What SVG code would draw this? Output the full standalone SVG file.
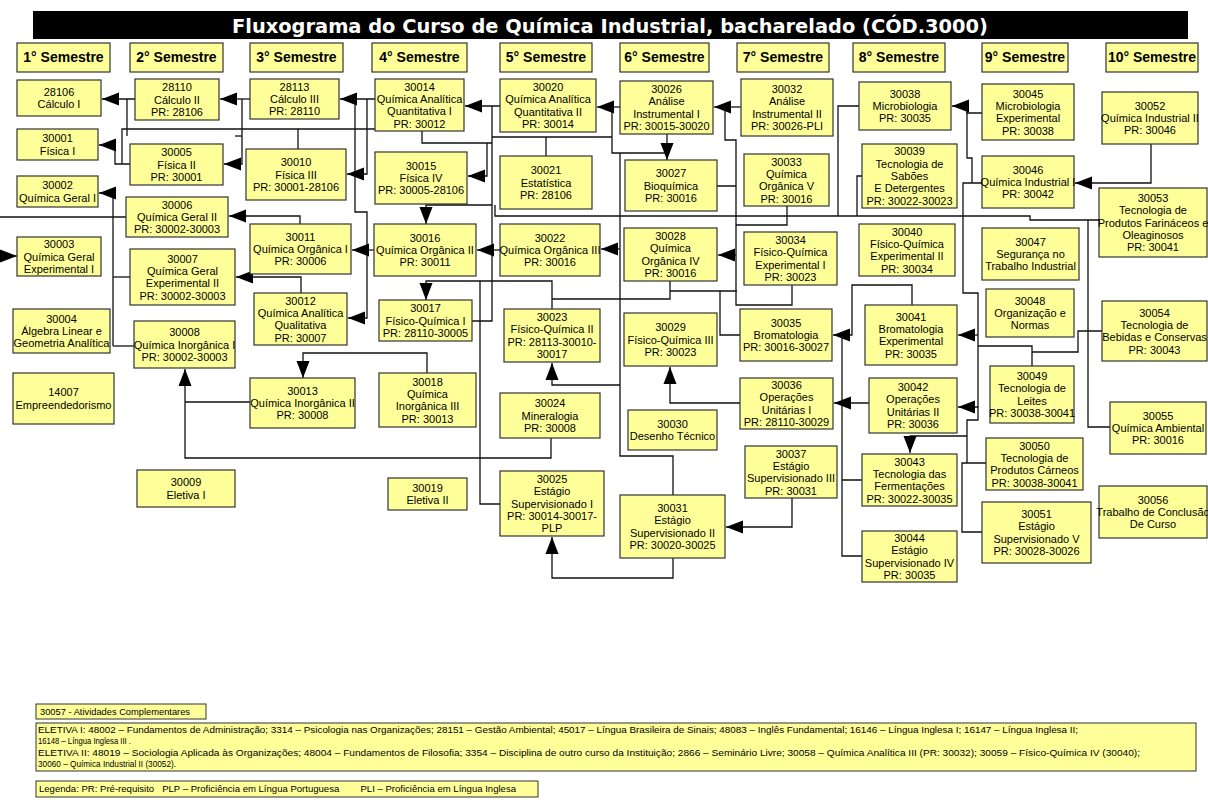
<svg xmlns="http://www.w3.org/2000/svg" width="1208" height="800" viewBox="0 0 1208 800">
<defs>
<marker id="ah" markerUnits="userSpaceOnUse" markerWidth="17" markerHeight="13" refX="17" refY="6.5" orient="auto" overflow="visible">
<path d="M0,0 L17,6.5 L0,13 z" fill="#000"/>
</marker>
</defs>
<style>
.n rect{fill:#ffff99;stroke:#333;stroke-width:1.2}
.n text{font-family:"Liberation Sans",Arial,sans-serif;font-size:11px;text-anchor:middle;fill:#000}
.h rect{fill:#ffff99;stroke:#333;stroke-width:1.2}
.h text{font-family:"Liberation Sans",Arial,sans-serif;font-size:14px;font-weight:bold;text-anchor:middle;fill:#000}
.c path{fill:none;stroke:#111;stroke-width:1.3}
.c path.a{marker-end:url(#ah)}
.lg rect{fill:#ffff99;stroke:#333;stroke-width:1}
.lg text{font-family:"Liberation Sans",Arial,sans-serif;font-size:9.5px;fill:#000}
</style>
<rect width="1208" height="800" fill="#fff"/>
<g id="title">
<rect x="33" y="11" width="1155" height="28" fill="#000"/>
<text x="610" y="33" font-family="DejaVu Sans,sans-serif" font-size="20" font-weight="bold" fill="#fff" text-anchor="middle" textLength="756" lengthAdjust="spacingAndGlyphs">Fluxograma do Curso de Química Industrial, bacharelado (CÓD.3000)</text>
</g>
<g id="headers" class="h">
<g id="s1"><rect x="17" y="43" width="93" height="29"/><text x="63.5" y="62">1° Semestre</text></g>
<g id="s2"><rect x="130" y="43" width="93" height="29"/><text x="176.5" y="62">2° Semestre</text></g>
<g id="s3"><rect x="250" y="43" width="93" height="29"/><text x="296.5" y="62">3° Semestre</text></g>
<g id="s4"><rect x="372" y="43" width="95" height="29"/><text x="419.5" y="62">4° Semestre</text></g>
<g id="s5"><rect x="500" y="43" width="92" height="29"/><text x="546" y="62">5° Semestre</text></g>
<g id="s6"><rect x="620" y="43" width="89" height="29"/><text x="664.5" y="62">6° Semestre</text></g>
<g id="s7"><rect x="737" y="43" width="92" height="29"/><text x="783" y="62">7° Semestre</text></g>
<g id="s8"><rect x="853" y="43" width="92" height="29"/><text x="899" y="62">8° Semestre</text></g>
<g id="s9"><rect x="982" y="43" width="86" height="29"/><text x="1025" y="62">9° Semestre</text></g>
<g id="s10"><rect x="1106" y="43" width="92" height="29"/><text x="1152" y="62">10° Semestre</text></g>
</g>
<g id="connectors" class="c">
<path class="a" d="M135,99 H102"/>
<path d="M127,99 V136"/>
<path class="a" d="M130,164 H115 V145 H99"/>
<path d="M298,149 V129 H122 V164"/>
<path d="M298,129 H375"/>
<path class="a" d="M250,99 H220"/>
<path class="a" d="M242,99 V164 H224"/>
<path d="M235,136 H242"/>
<path class="a" d="M113,346 V193 H99"/>
<path d="M126,217 H0"/>
<path class="a" d="M0,256 H17"/>
<path d="M130,277 H113"/>
<path d="M134,346 H113"/>
<path class="a" d="M300,224 V216 H229"/>
<path class="a" d="M301,293 V277 H236"/>
<path class="a" d="M375,99 H340"/>
<path class="a" d="M355,99 V212 H367 V318 H348"/>
<path class="a" d="M367,99 V174 H347"/>
<path class="a" d="M374,250 H352"/>
<path class="a" d="M500,106 H465"/>
<path d="M492,106 V321 H472"/>
<path d="M422,131 V143 H492"/>
<path class="a" d="M487,143 V176 H468"/>
<path class="a" d="M492,205 H426 V224"/>
<path d="M495,205 V216 H1030 V220 H1099"/>
<path d="M859,106 H838 V216"/>
<path d="M862,176 H857 V216"/>
<path d="M1088,220 V427 H1110"/>
<path class="a" d="M500,250 H477"/>
<path class="a" d="M552,309 V281 H426 V300"/>
<path d="M500,504 H480 V281"/>
<path d="M552,299 H670 V281 M670,291 H737"/>
<path class="a" d="M620,385 H552 V363"/>
<path class="a" d="M620,107 H597"/>
<path d="M612,107 V153 H667"/>
<path d="M620,153 V456 H673 V495"/>
<path d="M492,137 H612 M546,137 V156"/>
<path class="a" d="M667,134 V160"/>
<path class="a" d="M620,249 H601"/>
<path class="a" d="M740,403 H670 V367"/>
<path class="a" d="M741,107 H714"/>
<path d="M725,107 V140 H736 V305 H792 V285 M717,186 H736"/>
<path class="a" d="M736,255 H718"/>
<path d="M787,206 V225 H736"/>
<path d="M740,335 H720 V291"/>
<path class="a" d="M912,305 V285 H852 V335 H833"/>
<path d="M842,335 V556 H862 M842,480 H862"/>
<path class="a" d="M869,403 H834"/>
<path class="a" d="M982,113 H967 V106 H952"/>
<path d="M967,106 V158 H972 V183"/>
<path class="a" d="M982,183 H963 V293 H978 V407 H958"/>
<path class="a" d="M978,335 H958"/>
<path class="a" d="M1151,144 V183 H1075"/>
<path d="M1032,366 V346 H978 M1102,331 H1078 V352 H1032"/>
<path d="M978,407 V420 H967 V463 H986 M982,532 H962 V463 H967"/>
<path class="a" d="M967,436 H910 V453"/>
<path class="a" d="M792,498 V527 H726"/>
<path class="a" d="M673,558 V578 H552 V537"/>
<path class="a" d="M551,438 V458 H185 V369"/>
<path d="M251,402 H185"/>
<path class="a" d="M427,373 V353 H303 V378"/>
</g>
<g id="nodes">
<g id="n28106" class="n"><rect x="17" y="80" width="84" height="36"/><text x="59" y="95.9">28106<tspan x="59" dy="12.3">Cálculo I</tspan></text></g>
<g id="n30001" class="n"><rect x="17" y="129" width="81" height="31"/><text x="57.5" y="142.4">30001<tspan x="57.5" dy="12.3">Física I</tspan></text></g>
<g id="n30002" class="n"><rect x="17" y="176" width="81" height="31"/><text x="57.5" y="189.4">30002<tspan x="57.5" dy="12.3">Química Geral I</tspan></text></g>
<g id="n30003" class="n"><rect x="17" y="237" width="84" height="39"/><text x="59" y="248.2">30003<tspan x="59" dy="12.3">Química Geral</tspan><tspan x="59" dy="12.3">Experimental I</tspan></text></g>
<g id="n30004" class="n"><rect x="13" y="309" width="97" height="44"/><text x="61.5" y="322.7">30004<tspan x="61.5" dy="12.3">Álgebra Linear e</tspan><tspan x="61.5" dy="12.3">Geometria Analítica</tspan></text></g>
<g id="n14007" class="n"><rect x="13" y="373" width="101" height="51"/><text x="63.5" y="396.4">14007<tspan x="63.5" dy="12.3">Empreendedorismo</tspan></text></g>
<g id="n28110" class="n"><rect x="135" y="79" width="84" height="41"/><text x="177" y="91.2">28110<tspan x="177" dy="12.3">Cálculo II</tspan><tspan x="177" dy="12.3">PR: 28106</tspan></text></g>
<g id="n30005" class="n"><rect x="130" y="144" width="93" height="41"/><text x="176.5" y="156.2">30005<tspan x="176.5" dy="12.3">Física II</tspan><tspan x="176.5" dy="12.3">PR: 30001</tspan></text></g>
<g id="n30006" class="n"><rect x="126" y="197" width="102" height="40"/><text x="177" y="208.7">30006<tspan x="177" dy="12.3">Química Geral II</tspan><tspan x="177" dy="12.3">PR: 30002-30003</tspan></text></g>
<g id="n30007" class="n"><rect x="130" y="249" width="105" height="56"/><text x="182.5" y="262.6">30007<tspan x="182.5" dy="12.3">Química Geral</tspan><tspan x="182.5" dy="12.3">Experimental II</tspan><tspan x="182.5" dy="12.3">PR: 30002-30003</tspan></text></g>
<g id="n30008" class="n"><rect x="134" y="321" width="101" height="47"/><text x="184.5" y="336.2">30008<tspan x="184.5" dy="12.3">Química Inorgânica I</tspan><tspan x="184.5" dy="12.3">PR: 30002-30003</tspan></text></g>
<g id="n30009" class="n"><rect x="137" y="470" width="98" height="37"/><text x="186" y="486.4">30009<tspan x="186" dy="12.3">Eletiva I</tspan></text></g>
<g id="n28113" class="n"><rect x="250" y="79" width="89" height="40"/><text x="294.5" y="90.7">28113<tspan x="294.5" dy="12.3">Cálculo III</tspan><tspan x="294.5" dy="12.3">PR: 28110</tspan></text></g>
<g id="n30010" class="n"><rect x="246" y="149" width="100" height="51"/><text x="296" y="166.2">30010<tspan x="296" dy="12.3">Física III</tspan><tspan x="296" dy="12.3">PR: 30001-28106</tspan></text></g>
<g id="n30011" class="n"><rect x="250" y="224" width="101" height="50"/><text x="300.5" y="240.7">30011<tspan x="300.5" dy="12.3">Química Orgânica I</tspan><tspan x="300.5" dy="12.3">PR: 30006</tspan></text></g>
<g id="n30012" class="n"><rect x="254" y="293" width="93" height="52"/><text x="300.5" y="304.6">30012<tspan x="300.5" dy="12.3">Química Analítica</tspan><tspan x="300.5" dy="12.3">Qualitativa</tspan><tspan x="300.5" dy="12.3">PR: 30007</tspan></text></g>
<g id="n30013" class="n"><rect x="250" y="378" width="105" height="50"/><text x="302.5" y="394.7">30013<tspan x="302.5" dy="12.3">Química Inorgânica II</tspan><tspan x="302.5" dy="12.3">PR: 30008</tspan></text></g>
<g id="n30014" class="n"><rect x="375" y="79" width="89" height="52"/><text x="419.5" y="90.6">30014<tspan x="419.5" dy="12.3">Química Analítica</tspan><tspan x="419.5" dy="12.3">Quantitativa I</tspan><tspan x="419.5" dy="12.3">PR: 30012</tspan></text></g>
<g id="n30015" class="n"><rect x="375" y="152" width="92" height="52"/><text x="421" y="169.7">30015<tspan x="421" dy="12.3">Física IV</tspan><tspan x="421" dy="12.3">PR: 30005-28106</tspan></text></g>
<g id="n30016" class="n"><rect x="374" y="224" width="102" height="52"/><text x="425" y="241.7">30016<tspan x="425" dy="12.3">Química Orgânica II</tspan><tspan x="425" dy="12.3">PR: 30011</tspan></text></g>
<g id="n30017" class="n"><rect x="379" y="300" width="93" height="41"/><text x="425.5" y="312.2">30017<tspan x="425.5" dy="12.3">Físico-Química I</tspan><tspan x="425.5" dy="12.3">PR: 28110-30005</tspan></text></g>
<g id="n30018" class="n"><rect x="379" y="373" width="97" height="54"/><text x="427.5" y="385.6">30018<tspan x="427.5" dy="12.3">Química</tspan><tspan x="427.5" dy="12.3">Inorgânica III</tspan><tspan x="427.5" dy="12.3">PR: 30013</tspan></text></g>
<g id="n30019" class="n"><rect x="388" y="478" width="79" height="32"/><text x="427.5" y="491.9">30019<tspan x="427.5" dy="12.3">Eletiva II</tspan></text></g>
<g id="n30020" class="n"><rect x="500" y="79" width="96" height="53"/><text x="548" y="91.1">30020<tspan x="548" dy="12.3">Química Analítica</tspan><tspan x="548" dy="12.3">Quantitativa II</tspan><tspan x="548" dy="12.3">PR: 30014</tspan></text></g>
<g id="n30021" class="n"><rect x="500" y="156" width="92" height="53"/><text x="546" y="174.2">30021<tspan x="546" dy="12.3">Estatística</tspan><tspan x="546" dy="12.3">PR: 28106</tspan></text></g>
<g id="n30022" class="n"><rect x="500" y="224" width="100" height="52"/><text x="550" y="241.7">30022<tspan x="550" dy="12.3">Química Orgânica III</tspan><tspan x="550" dy="12.3">PR: 30016</tspan></text></g>
<g id="n30023" class="n"><rect x="504" y="309" width="96" height="53"/><text x="552" y="321.1">30023<tspan x="552" dy="12.3">Físico-Química II</tspan><tspan x="552" dy="12.3">PR: 28113-30010-</tspan><tspan x="552" dy="12.3">30017</tspan></text></g>
<g id="n30024" class="n"><rect x="500" y="393" width="100" height="45"/><text x="550" y="407.2">30024<tspan x="550" dy="12.3">Mineralogia</tspan><tspan x="550" dy="12.3">PR: 30008</tspan></text></g>
<g id="n30025" class="n"><rect x="500" y="471" width="104" height="65"/><text x="552" y="482.9">30025<tspan x="552" dy="12.3">Estágio</tspan><tspan x="552" dy="12.3">Supervisionado I</tspan><tspan x="552" dy="12.3">PR: 30014-30017-</tspan><tspan x="552" dy="12.3">PLP</tspan></text></g>
<g id="n30026" class="n"><rect x="620" y="81" width="93" height="53"/><text x="666.5" y="93.1">30026<tspan x="666.5" dy="12.3">Análise</tspan><tspan x="666.5" dy="12.3">Instrumental I</tspan><tspan x="666.5" dy="12.3">PR: 30015-30020</tspan></text></g>
<g id="n30027" class="n"><rect x="625" y="160" width="92" height="51"/><text x="671" y="177.2">30027<tspan x="671" dy="12.3">Bioquímica</tspan><tspan x="671" dy="12.3">PR: 30016</tspan></text></g>
<g id="n30028" class="n"><rect x="624" y="228" width="93" height="53"/><text x="670.5" y="240.1">30028<tspan x="670.5" dy="12.3">Química</tspan><tspan x="670.5" dy="12.3">Orgânica IV</tspan><tspan x="670.5" dy="12.3">PR: 30016</tspan></text></g>
<g id="n30029" class="n"><rect x="624" y="313" width="93" height="53"/><text x="670.5" y="331.2">30029<tspan x="670.5" dy="12.3">Físico-Química III</tspan><tspan x="670.5" dy="12.3">PR: 30023</tspan></text></g>
<g id="n30030" class="n"><rect x="628" y="410" width="89" height="40"/><text x="672.5" y="427.9">30030<tspan x="672.5" dy="12.3">Desenho Técnico</tspan></text></g>
<g id="n30031" class="n"><rect x="620" y="495" width="105" height="63"/><text x="672.5" y="512.1">30031<tspan x="672.5" dy="12.3">Estágio</tspan><tspan x="672.5" dy="12.3">Supervisionado II</tspan><tspan x="672.5" dy="12.3">PR: 30020-30025</tspan></text></g>
<g id="n30032" class="n"><rect x="741" y="79" width="92" height="57"/><text x="787" y="93.1">30032<tspan x="787" dy="12.3">Análise</tspan><tspan x="787" dy="12.3">Instrumental II</tspan><tspan x="787" dy="12.3">PR: 30026-PLI</tspan></text></g>
<g id="n30033" class="n"><rect x="744" y="154" width="85" height="52"/><text x="786.5" y="165.6">30033<tspan x="786.5" dy="12.3">Química</tspan><tspan x="786.5" dy="12.3">Orgânica V</tspan><tspan x="786.5" dy="12.3">PR: 30016</tspan></text></g>
<g id="n30034" class="n"><rect x="744" y="232" width="93" height="53"/><text x="790.5" y="244.1">30034<tspan x="790.5" dy="12.3">Físico-Química</tspan><tspan x="790.5" dy="12.3">Experimental I</tspan><tspan x="790.5" dy="12.3">PR: 30023</tspan></text></g>
<g id="n30035" class="n"><rect x="740" y="309" width="92" height="52"/><text x="786" y="326.7">30035<tspan x="786" dy="12.3">Bromatologia</tspan><tspan x="786" dy="12.3">PR: 30016-30027</tspan></text></g>
<g id="n30036" class="n"><rect x="740" y="378" width="93" height="51"/><text x="786.5" y="389.1">30036<tspan x="786.5" dy="12.3">Operações</tspan><tspan x="786.5" dy="12.3">Unitárias I</tspan><tspan x="786.5" dy="12.3">PR: 28110-30029</tspan></text></g>
<g id="n30037" class="n"><rect x="745" y="446" width="92" height="52"/><text x="791" y="457.6">30037<tspan x="791" dy="12.3">Estágio</tspan><tspan x="791" dy="12.3">Supervisionado III</tspan><tspan x="791" dy="12.3">PR: 30031</tspan></text></g>
<g id="n30038" class="n"><rect x="859" y="82" width="92" height="48"/><text x="905" y="97.7">30038<tspan x="905" dy="12.3">Microbiologia</tspan><tspan x="905" dy="12.3">PR: 30035</tspan></text></g>
<g id="n30039" class="n"><rect x="862" y="144" width="95" height="64"/><text x="909.5" y="155.4">30039<tspan x="909.5" dy="12.3">Tecnologia de</tspan><tspan x="909.5" dy="12.3">Sabões</tspan><tspan x="909.5" dy="12.3">E Detergentes</tspan><tspan x="909.5" dy="12.3">PR: 30022-30023</tspan></text></g>
<g id="n30040" class="n"><rect x="859" y="224" width="96" height="52"/><text x="907" y="235.6">30040<tspan x="907" dy="12.3">Físico-Química</tspan><tspan x="907" dy="12.3">Experimental II</tspan><tspan x="907" dy="12.3">PR: 30034</tspan></text></g>
<g id="n30041" class="n"><rect x="865" y="305" width="92" height="60"/><text x="911" y="320.6">30041<tspan x="911" dy="12.3">Bromatologia</tspan><tspan x="911" dy="12.3">Experimental</tspan><tspan x="911" dy="12.3">PR: 30035</tspan></text></g>
<g id="n30042" class="n"><rect x="869" y="378" width="88" height="55"/><text x="913" y="391.1">30042<tspan x="913" dy="12.3">Operações</tspan><tspan x="913" dy="12.3">Unitárias II</tspan><tspan x="913" dy="12.3">PR: 30036</tspan></text></g>
<g id="n30043" class="n"><rect x="862" y="454" width="95" height="52"/><text x="909.5" y="465.6">30043<tspan x="909.5" dy="12.3">Tecnologia das</tspan><tspan x="909.5" dy="12.3">Fermentações</tspan><tspan x="909.5" dy="12.3">PR: 30022-30035</tspan></text></g>
<g id="n30044" class="n"><rect x="862" y="531" width="95" height="51"/><text x="909.5" y="542.1">30044<tspan x="909.5" dy="12.3">Estágio</tspan><tspan x="909.5" dy="12.3">Supervisionado IV</tspan><tspan x="909.5" dy="12.3">PR: 30035</tspan></text></g>
<g id="n30045" class="n"><rect x="982" y="84" width="92" height="56"/><text x="1028" y="97.6">30045<tspan x="1028" dy="12.3">Microbiologia</tspan><tspan x="1028" dy="12.3">Experimental</tspan><tspan x="1028" dy="12.3">PR: 30038</tspan></text></g>
<g id="n30046" class="n"><rect x="982" y="156" width="92" height="52"/><text x="1028" y="173.7">30046<tspan x="1028" dy="12.3">Química Industrial I</tspan><tspan x="1028" dy="12.3">PR: 30042</tspan></text></g>
<g id="n30047" class="n"><rect x="982" y="228" width="97" height="52"/><text x="1030.5" y="245.7">30047<tspan x="1030.5" dy="12.3">Segurança no</tspan><tspan x="1030.5" dy="12.3">Trabalho Industrial</tspan></text></g>
<g id="n30048" class="n"><rect x="986" y="289" width="88" height="48"/><text x="1030" y="304.7">30048<tspan x="1030" dy="12.3">Organização e</tspan><tspan x="1030" dy="12.3">Normas</tspan></text></g>
<g id="n30049" class="n"><rect x="990" y="366" width="84" height="57"/><text x="1032" y="380.1">30049<tspan x="1032" dy="12.3">Tecnologia de</tspan><tspan x="1032" dy="12.3">Leites</tspan><tspan x="1032" dy="12.3">PR: 30038-30041</tspan></text></g>
<g id="n30050" class="n"><rect x="986" y="438" width="97" height="52"/><text x="1034.5" y="449.6">30050<tspan x="1034.5" dy="12.3">Tecnologia de</tspan><tspan x="1034.5" dy="12.3">Produtos Cárneos</tspan><tspan x="1034.5" dy="12.3">PR: 30038-30041</tspan></text></g>
<g id="n30051" class="n"><rect x="982" y="502" width="109" height="61"/><text x="1036.5" y="518.1">30051<tspan x="1036.5" dy="12.3">Estágio</tspan><tspan x="1036.5" dy="12.3">Supervisionado V</tspan><tspan x="1036.5" dy="12.3">PR: 30028-30026</tspan></text></g>
<g id="n30052" class="n"><rect x="1102" y="92" width="96" height="52"/><text x="1150" y="109.7">30052<tspan x="1150" dy="12.3">Química Industrial II</tspan><tspan x="1150" dy="12.3">PR: 30046</tspan></text></g>
<g id="n30053" class="n"><rect x="1099" y="188" width="108" height="69"/><text x="1153" y="201.9">30053<tspan x="1153" dy="12.3">Tecnologia de</tspan><tspan x="1153" dy="12.3">Produtos Farináceos e</tspan><tspan x="1153" dy="12.3">Oleaginosos</tspan><tspan x="1153" dy="12.3">PR: 30041</tspan></text></g>
<g id="n30054" class="n"><rect x="1102" y="301" width="105" height="60"/><text x="1154.5" y="316.6">30054<tspan x="1154.5" dy="12.3">Tecnologia de</tspan><tspan x="1154.5" dy="12.3">Bebidas e Conservas</tspan><tspan x="1154.5" dy="12.3">PR: 30043</tspan></text></g>
<g id="n30055" class="n"><rect x="1110" y="402" width="96" height="52"/><text x="1158" y="419.7">30055<tspan x="1158" dy="12.3">Química Ambiental</tspan><tspan x="1158" dy="12.3">PR: 30016</tspan></text></g>
<g id="n30056" class="n"><rect x="1099" y="486" width="108" height="52"/><text x="1153" y="503.7">30056<tspan x="1153" dy="12.3">Trabalho de Conclusão</tspan><tspan x="1153" dy="12.3">De Curso</tspan></text></g>
</g>
<g id="legend" class="lg">
<g id="l30057"><rect x="36" y="704" width="170" height="15"/><text x="40" y="715" textLength="150" lengthAdjust="spacingAndGlyphs">30057 - Atividades Complementares</text></g>
<g id="leletivas"><rect x="36" y="723" width="1160" height="48"/>
<text x="38" y="733" textLength="1040" lengthAdjust="spacingAndGlyphs">ELETIVA I: 48002 – Fundamentos de Administração; 3314 – Psicologia nas Organizações; 28151 – Gestão Ambiental; 45017 – Língua Brasileira de Sinais; 48083 – Inglês Fundamental; 16146 – Língua Inglesa I; 16147 – Língua Inglesa II;</text>
<text x="38" y="744" textLength="93" lengthAdjust="spacingAndGlyphs">16148 – Língua Inglesa III .</text>
<text x="38" y="756" textLength="1102" lengthAdjust="spacingAndGlyphs">ELETIVA II: 48019 – Sociologia Aplicada às Organizações; 48004 – Fundamentos de Filosofia;  3354 – Disciplina de outro curso da Instituição; 2866 – Seminário Livre; 30058 – Química Analítica III (PR: 30032); 30059 – Físico-Química IV (30040);</text>
<text x="38" y="767" textLength="138" lengthAdjust="spacingAndGlyphs">30060 – Química Industrial II (30052).</text>
</g>
<g id="llegenda"><rect x="36" y="781" width="502" height="16"/><text x="39" y="792" textLength="477" lengthAdjust="spacingAndGlyphs" xml:space="preserve">Legenda: PR: Pré-requisito   PLP – Proficiência em Língua Portuguesa        PLI – Proficiência em Língua Inglesa</text></g>
</g>
</svg>
